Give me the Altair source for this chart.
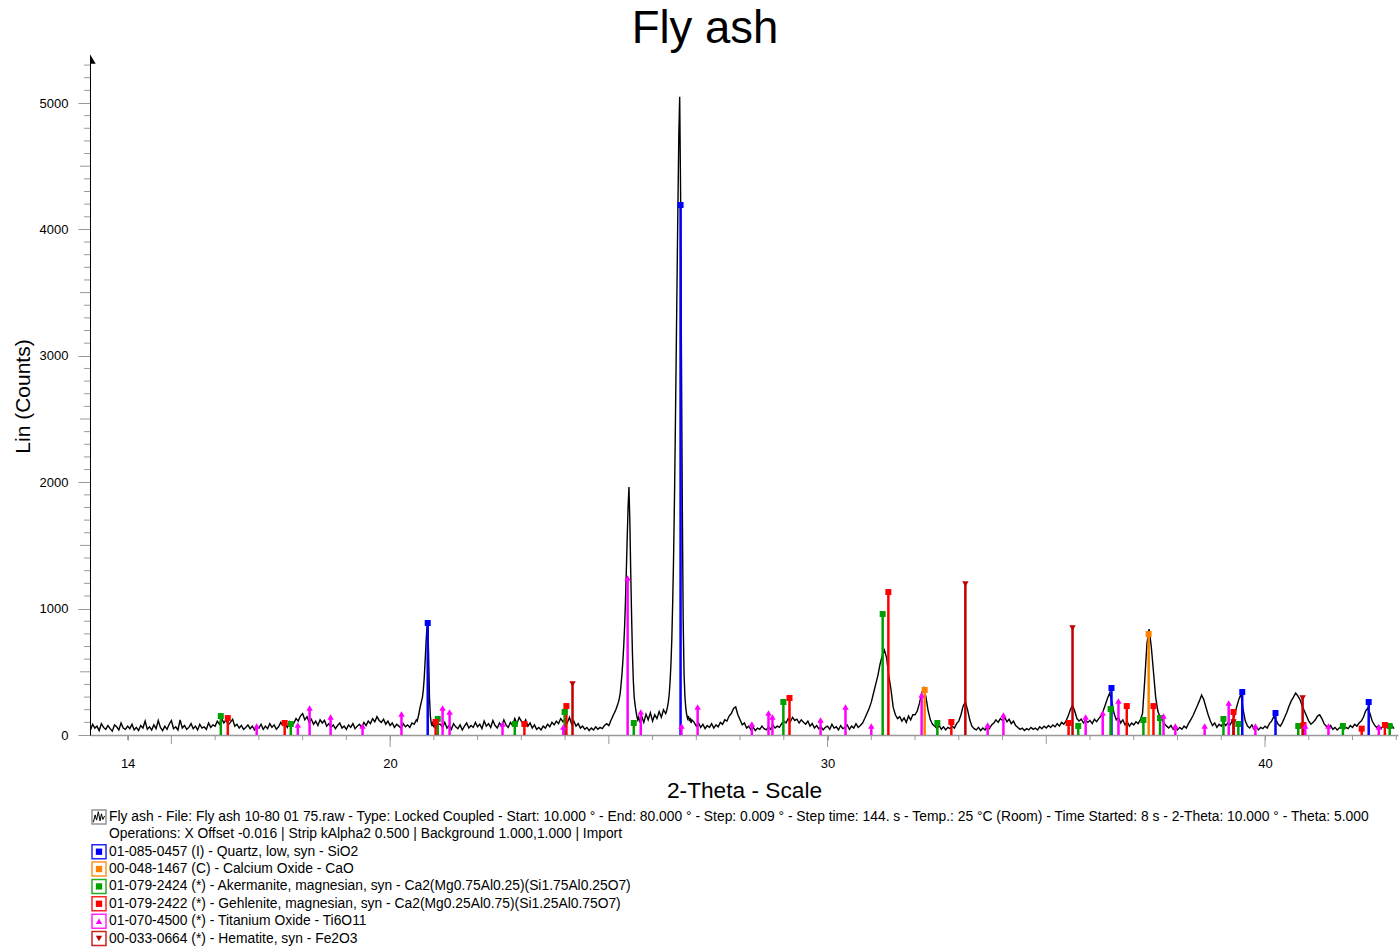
import altair as alt
import pandas as pd

FONT = "Liberation Sans"

seg_13_20 = [40, 85, 55, 70, 35, 90, 60, 45, 75, 50, 30, 80, 65, 40, 95, 55, 45,
             70, 50, 85, 40, 60, 35, 75, 55, 110, 45, 65, 40, 80, 50, 115, 60, 35, 70, 45, 85,
             115, 50, 65, 40, 120, 55, 75, 45, 60, 90, 50, 70, 40, 85, 55, 65, 45, 95, 60, 80,
             70, 110, 85, 130, 95, 120, 80, 100, 125, 70, 85, 55, 75, 45, 60, 80, 50, 70, 40, 65,
             55, 85, 45, 70, 50, 90, 60, 80, 45, 65, 100, 75, 90, 60, 105, 80, 95, 130, 110, 150,
             170, 120, 145, 100, 125, 85, 110, 75, 120, 95, 115, 70, 90, 60, 80, 50, 75, 95, 55, 70,
             45, 80, 60, 90, 50, 70, 85, 60, 100, 75, 110, 90, 130, 105, 145, 115, 100, 125, 85, 110,
             75, 95, 60, 85, 70, 55, 90, 65, 80, 60, 95, 85, 120]
seg_quartz_21 = [110, 140, 170, 210, 240, 270, 300, 360, 450, 580, 720, 840, 886, 640, 300,
                 150, 95, 70, 105, 60, 90, 50, 80, 55, 85]
seg_21_25 = [85, 60, 100, 55, 75, 45, 90, 65, 50, 80, 40, 70, 95, 55, 75, 60, 100,
             65, 85, 50, 110, 70, 90, 60, 115, 75, 55, 95, 70, 120, 80, 60, 100, 75, 130, 90, 140,
             110, 85, 120, 70, 95, 55, 80, 45, 60, 40, 70, 55, 85, 65, 100, 80, 110, 90, 130, 105,
             125, 95, 140, 85, 110, 70, 90, 55, 70, 45, 60, 35, 55, 40, 65, 45, 60, 50, 75, 90]
seg_peak_25 = [75, 90, 110, 125, 140, 155, 170, 185, 200, 220, 240, 260, 290, 330, 400, 480,
               580, 700, 850, 1050, 1300, 1560, 1800, 1962, 1700, 1300, 950, 640, 430, 300,
               240, 190, 150, 120, 140, 110]
seg_26 = [150, 100, 165, 120, 175, 110, 160, 130, 185, 140, 200, 170]
seg_peak_26 = [190, 220, 260, 320, 420, 560, 760, 1050, 1400, 1850, 2400, 3000, 3600, 4200,
               4750, 5050, 4300, 3000, 1800, 900, 480, 300, 210, 160, 130, 150, 110, 135, 95, 120]
seg_27 = [70, 95, 60, 85, 50, 75, 60, 90, 55, 80, 65, 100, 85, 120, 110, 150, 170, 210, 222, 160]
seg_28 = [120, 80, 95, 55, 70, 40, 60, 35, 55, 45, 70, 50, 40, 65, 45, 80, 55, 70, 60, 90]
seg_29 = [110, 95, 130, 105, 140, 115, 125, 95, 120, 100, 85, 110, 70, 90, 55, 75, 50, 65, 40, 60]
seg_30 = [70, 45, 85, 55, 65, 40, 75, 50, 60, 80, 45, 70, 55, 90, 60, 75, 95, 130, 170, 210]
seg_31 = [260, 330, 400, 470, 560, 630, 672, 610, 470, 360, 220, 160, 130, 145, 110, 135, 100, 150, 120, 160]
seg_32 = [160, 190, 250, 330, 372, 300, 190, 120, 85, 70, 50, 75, 45, 65, 40, 60, 50, 70, 55, 90]
seg_33 = [110, 160, 230, 261, 200, 120, 70, 50, 40, 60, 35, 55, 40, 65, 50, 80, 95, 120, 100, 130]
seg_34 = [115, 140, 105, 125, 90, 110, 75, 60, 45, 55, 35, 50, 40, 60, 45, 55, 40, 65, 50, 70]
seg_35 = [55, 75, 60, 80, 65, 90, 70, 100, 85, 110, 150, 200, 235, 190, 130, 110, 125, 95, 120, 100]
seg_36 = [115, 90, 125, 105, 130, 150, 190, 240, 290, 332, 260, 170, 120, 140, 95, 120, 80, 105, 70, 95]
seg_37 = [80, 105, 90, 120, 170, 430, 720, 838, 700, 500, 300, 190, 140, 115, 90, 70, 55, 75, 45, 65]
seg_38 = [40, 60, 45, 70, 55, 90, 120, 150, 190, 230, 270, 316, 280, 220, 160, 110, 75, 95, 60, 85]
seg_39 = [70, 100, 75, 95, 80, 110, 150, 220, 280, 324, 200, 110, 70, 55, 80, 45, 65, 40, 60, 50]
seg_40 = [70, 55, 90, 110, 145, 120, 85, 70, 100, 140, 180, 230, 270, 300, 332, 310, 280, 230, 190, 150]
seg_41 = [110, 85, 100, 120, 150, 160, 130, 90, 70, 55, 75, 45, 60, 40, 55, 70, 45, 60, 50, 75]
seg_42 = [60, 85, 70, 95, 110, 140, 190, 214, 170, 110, 80, 60, 75, 50, 70, 55, 80, 60, 75, 50]

# (start 2-theta, instrument step, counts)
pattern_segments = [
    (13.15, 0.05, seg_13_20), (20.62, 0.02, seg_quartz_21), (21.15, 0.05, seg_21_25),
    (25.00, 0.02, seg_peak_25), (25.75, 0.05, seg_26), (26.32, 0.02, seg_peak_26),
    (26.95, 0.05, [100]),
    (27.0, 0.05, seg_27), (28.0, 0.05, seg_28), (29.0, 0.05, seg_29), (30.0, 0.05, seg_30),
    (31.0, 0.05, seg_31), (32.0, 0.05, seg_32), (33.0, 0.05, seg_33), (34.0, 0.05, seg_34),
    (35.0, 0.05, seg_35), (36.0, 0.05, seg_36), (37.0, 0.05, seg_37), (38.0, 0.05, seg_38),
    (39.0, 0.05, seg_39), (40.0, 0.05, seg_40), (41.0, 0.05, seg_41), (42.0, 0.05, seg_42),
]

# ---------------- reference patterns (stick positions / heights) ----------------
quartz_pos = [20.86, 26.64, 36.49, 39.48, 40.24, 42.37]
quartz_h = [886, 4193, 372, 340, 174, 261]
cao_pos = [32.22, 37.34]
cao_h = [356, 799]
aker_pos = [16.13, 17.73, 21.09, 22.85, 23.99, 25.57, 28.99, 31.26, 32.51, 35.73, 36.47, 37.22,
            37.60, 39.05, 39.39, 40.76, 41.78, 42.85]
aker_h = [150, 87, 127, 87, 182, 95, 261, 957, 95, 71, 206, 119, 134, 127, 87, 71, 71, 71]
geh_pos = [16.29, 17.59, 21.04, 23.07, 24.03, 29.13, 31.39, 32.83, 35.51, 36.84, 37.45, 39.28,
           40.88, 42.21, 42.74]
geh_h = [134, 95, 103, 87, 229, 293, 1131, 103, 95, 229, 229, 182, 79, 50, 79]
ti_pos = [16.95, 17.89, 18.16, 18.64, 19.37, 20.26, 21.20, 21.36, 22.57, 23.96, 25.43, 25.73,
          26.66, 27.03, 28.27, 28.65, 28.74, 29.84, 30.41, 31.00, 32.15, 33.66, 34.02, 35.90,
          36.29, 36.65, 37.68, 37.95, 38.62, 39.17, 39.78, 40.92, 41.45, 42.60]
ti_h = [71, 79, 214, 142, 71, 166, 214, 182, 87, 63, 1242, 182, 71, 222, 87, 174, 142, 119,
        222, 71, 316, 79, 158, 142, 174, 269, 150, 71, 71, 253, 71, 71, 71, 63]
hem_pos = [24.17, 33.15, 35.60, 39.28, 40.86]
hem_h = [403, 1195, 847, 103, 293]

phase_colors = ["#0000FF", "#FF8000", "#00A000", "#FF0000", "#FF00FF", "#C00000"]
phase_shapes = ["square", "square", "square", "square", "triangle-up", "triangle-down"]
phase_sizes = [36, 36, 36, 36, 42, 42]
phase_data = [(quartz_pos, quartz_h), (cao_pos, cao_h), (aker_pos, aker_h),
              (geh_pos, geh_h), (ti_pos, ti_h), (hem_pos, hem_h)]

legend_labels = [
    "Fly ash - File: Fly ash  10-80 01 75.raw - Type: Locked Coupled - Start: 10.000 ° - End: 80.000 ° - Step: 0.009 ° - Step time: 144. s - Temp.: 25 °C (Room) - Time Started: 8 s - 2-Theta: 10.000 ° - Theta: 5.000",
    "Operations: X Offset -0.016 | Strip kAlpha2 0.500 | Background 1.000,1.000 | Import",
    "01-085-0457 (I) - Quartz, low, syn - SiO2",
    "00-048-1467 (C) - Calcium Oxide - CaO",
    "01-079-2424 (*) - Akermanite, magnesian, syn - Ca2(Mg0.75Al0.25)(Si1.75Al0.25O7)",
    "01-079-2422 (*) - Gehlenite, magnesian, syn - Ca2(Mg0.25Al0.75)(Si1.25Al0.75O7)",
    "01-070-4500 (*) - Titanium Oxide - Ti6O11",
    "00-033-0664 (*) - Hematite, syn - Fe2O3",
]

x_ticks_short = [14, 16, 17, 18, 19, 21, 22, 23, 24, 26, 27, 28, 29, 31, 32, 33, 34,
                 36, 37, 38, 39, 41, 42, 43]
x_ticks_mid = [15, 25, 35]
x_ticks_long = [20, 30, 40]
x_labels = [14, 20, 30, 40]
y_labels = [0, 1000, 2000, 3000, 4000, 5000]
y_ticks_mid = [500, 1500, 2500, 3500, 4500]
y_ticks_short = [v for v in range(100, 5400, 100) if v % 500]

# ---------------- build tables ----------------
pat_rows = []
for start, step, vals in pattern_segments:
    for i, v in enumerate(vals):
        pat_rows.append({"tt": round(start + i * step, 4), "c": v})
pat_df = pd.DataFrame(pat_rows)

stick_rows = []
for k, (pos, hh) in enumerate(phase_data):
    for p, h in zip(pos, hh):
        stick_rows.append({"tt": p, "h": h, "col": phase_colors[k],
                           "shp": phase_shapes[k], "sz": phase_sizes[k]})
stick_df = pd.DataFrame(stick_rows)

W, H = 1308, 678
xs = alt.Scale(domain=[13.14, 43.04], nice=False, zero=False)
ys = alt.Scale(domain=[0, 5364], nice=False, zero=True)

pattern = alt.Chart(pat_df).mark_line(color="black", strokeWidth=1.4).encode(
    x=alt.X("tt:Q", scale=xs, axis=alt.Axis(
        values=x_labels, format="d", title="2-Theta - Scale", grid=False,
        domainColor="#999999", domainWidth=1.5, tickColor="#999999", tickSize=5,
        labelPadding=17, labelFont=FONT, labelFontSize=13, labelColor="black",
        titleFont=FONT, titleFontSize=22.7, titleFontWeight="normal", titleColor="black",
        titlePadding=9)),
    y=alt.Y("c:Q", scale=ys, axis=alt.Axis(
        values=y_labels, format="d", title="Lin (Counts)", grid=False,
        domainColor="black", domainWidth=1, tickColor="#999999", tickSize=12,
        labelPadding=10, labelFont=FONT, labelFontSize=13, labelColor="black",
        titleFont=FONT, titleFontSize=21, titleFontWeight="normal", titleColor="black",
        titlePadding=6)),
)

sticks = alt.Chart(stick_df).mark_rule(strokeWidth=2.5).encode(
    x=alt.X("tt:Q", scale=xs),
    y=alt.Y("h:Q", scale=ys),
    y2=alt.datum(0),
    color=alt.Color("col:N", scale=None),
)

markers = alt.Chart(stick_df).mark_point(filled=True, opacity=1).encode(
    x=alt.X("tt:Q", scale=xs),
    y=alt.Y("h:Q", scale=ys),
    color=alt.Color("col:N", scale=None),
    shape=alt.Shape("shp:N", scale=None),
    size=alt.Size("sz:Q", scale=None),
)


def xtick_layer(vals, length):
    return alt.Chart(pd.DataFrame({"v": vals})).mark_rule(color="#999999", strokeWidth=1).encode(
        x=alt.X("v:Q", scale=xs), y=alt.value(H), y2=alt.value(H + length))


def ytick_layer(vals, length):
    return alt.Chart(pd.DataFrame({"v": vals})).mark_rule(color="#999999", strokeWidth=1).encode(
        y=alt.Y("v:Q", scale=ys), x=alt.value(0), x2=alt.value(-length))


arrow = alt.Chart(pd.DataFrame({"a": [0]})).mark_point(
    shape="M0,-1 L1.2,1 L0,1 Z", filled=True, color="black", opacity=1, size=90
).encode(x=alt.value(0), y=alt.value(2))

main = alt.layer(
    pattern, sticks, markers,
    xtick_layer(x_ticks_short, 5), xtick_layer(x_ticks_mid, 9), xtick_layer(x_ticks_long, 12),
    ytick_layer(y_ticks_short, 6), ytick_layer(y_ticks_mid, 10),
    arrow,
)

# ---------------- legend block under the plot ----------------
leg_df = pd.DataFrame({"row": list(range(len(legend_labels))), "label": legend_labels})
ly = alt.Scale(domain=[0, 7], range=[760, 881.5])

leg_text = alt.Chart(leg_df).mark_text(
    align="left", baseline="middle", font=FONT, fontSize=13.85, color="black"
).encode(x=alt.value(19), y=alt.Y("row:Q", scale=ly, axis=None), text="label:N")

box_df = pd.DataFrame({"row": [0, 2, 3, 4, 5, 6, 7],
                       "col": ["#808080"] + phase_colors})
leg_box = alt.Chart(box_df).mark_point(shape="square", filled=False, size=196,
                                       strokeWidth=1.5, opacity=0.85).encode(
    x=alt.value(9), y=alt.Y("row:Q", scale=ly, axis=None),
    color=alt.Color("col:N", scale=None))

sym_df = pd.DataFrame({"row": [2, 3, 4, 5, 6, 7], "col": phase_colors, "shp": phase_shapes})
leg_sym = alt.Chart(sym_df).mark_point(filled=True, opacity=1, size=40).encode(
    x=alt.value(9), y=alt.Y("row:Q", scale=ly, axis=None),
    color=alt.Color("col:N", scale=None), shape=alt.Shape("shp:N", scale=None))

zig = alt.Chart(pd.DataFrame({"row": [0]})).mark_point(
    shape="M-0.8,0.75 L-0.55,-0.3 L-0.35,0.45 L-0.1,-0.75 L0.15,0.55 L0.35,-0.45 L0.55,0.35 L0.8,-0.15",
    filled=False, color="black", strokeWidth=1, size=196, opacity=1
).encode(x=alt.value(9), y=alt.Y("row:Q", scale=ly, axis=None))

legend_block = alt.layer(leg_box, leg_sym, zig, leg_text)

chart = alt.layer(main, legend_block).resolve_scale(y="independent").properties(
    width=W, height=H,
    background="white",
    view=alt.ViewBackground(stroke="transparent", strokeWidth=0),
    title=alt.Title("Fly ash", font=FONT, fontSize=45.5, fontWeight="normal", color="black",
                    anchor="middle", frame="bounds", offset=2),
    padding={"left": 90, "top": 57, "right": 2, "bottom": 214},
    autosize=alt.AutoSizeParams(type="none"),
).configure_view(strokeWidth=0, stroke="transparent")

chart.save("out.html", embed_options={"renderer": "svg", "actions": False})
